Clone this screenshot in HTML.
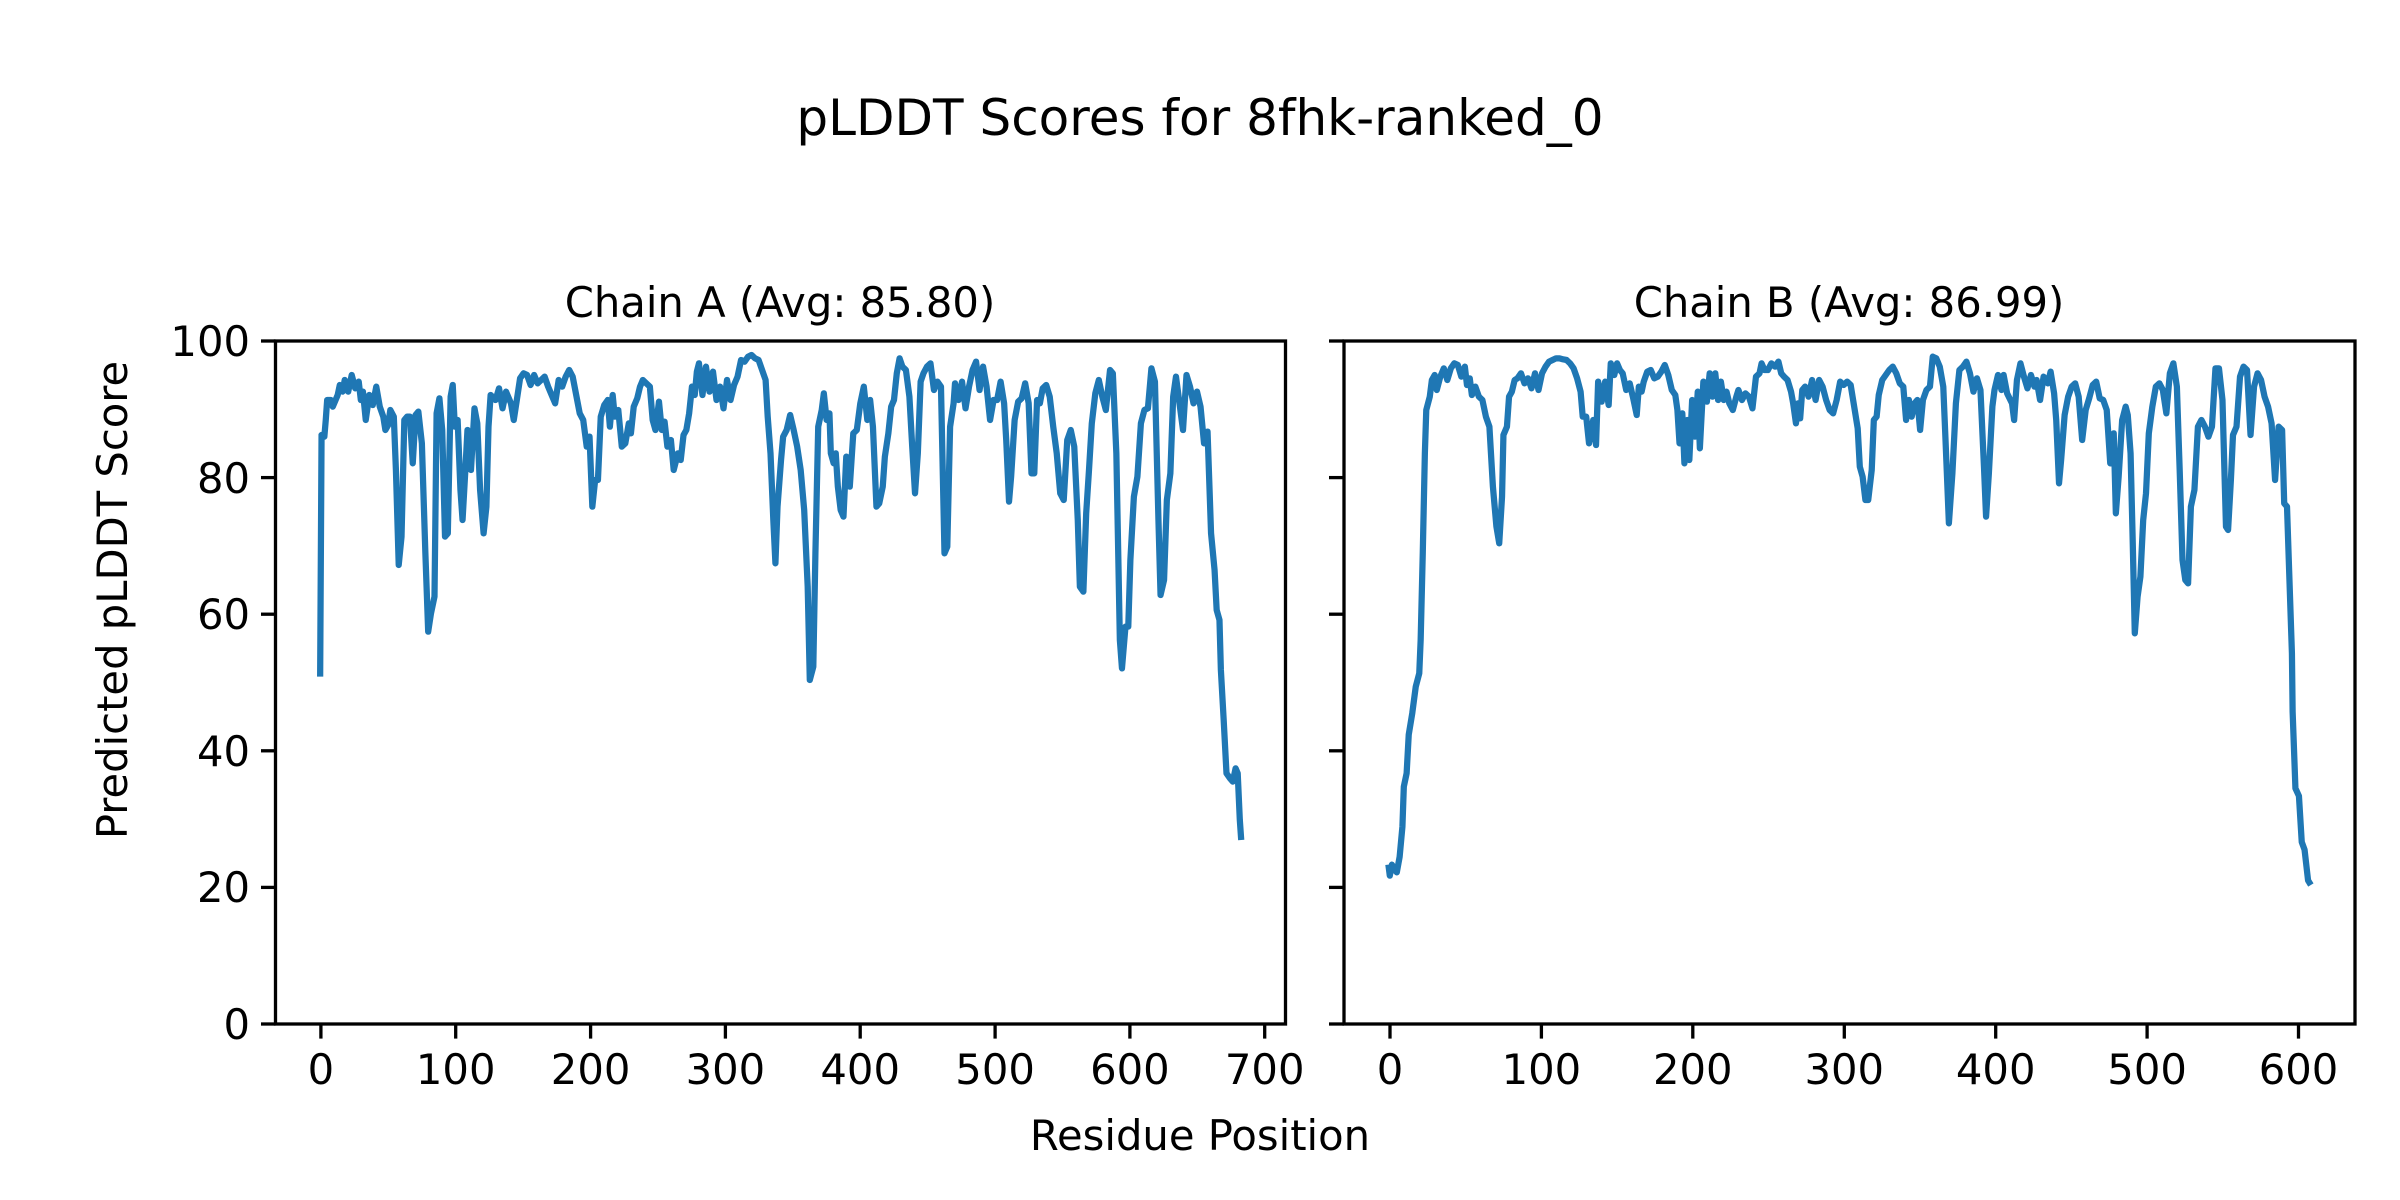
<!DOCTYPE html>
<html><head><meta charset="utf-8"><style>
html,body{margin:0;padding:0;background:#fff;}
svg{display:block;}
text{font-family:"DejaVu Sans","Liberation Sans",sans-serif;fill:#000;}
</style></head><body>
<svg width="2400" height="1200" viewBox="0 0 2400 1200" xmlns="http://www.w3.org/2000/svg">
<rect width="2400" height="1200" fill="#fff"/>
<text x="1200" y="135" font-size="50" text-anchor="middle">pLDDT Scores for 8fhk-ranked_0</text>
<text x="780" y="317" font-size="41.7" text-anchor="middle">Chain A (Avg: 85.80)</text>
<text x="1849" y="317" font-size="41.7" text-anchor="middle">Chain B (Avg: 86.99)</text>
<text x="1200" y="1150" font-size="41.7" text-anchor="middle">Residue Position</text>
<text transform="translate(127,600) rotate(-90)" font-size="41.7" text-anchor="middle">Predicted pLDDT Score</text>

<g stroke="#000" stroke-width="3.3">
<line x1="261" y1="1024" x2="275.5" y2="1024"/><line x1="261" y1="887.4" x2="275.5" y2="887.4"/>
<line x1="261" y1="750.8" x2="275.5" y2="750.8"/><line x1="261" y1="614.2" x2="275.5" y2="614.2"/>
<line x1="261" y1="477.6" x2="275.5" y2="477.6"/><line x1="261" y1="341" x2="275.5" y2="341"/>
<line x1="1329" y1="1024" x2="1344" y2="1024"/><line x1="1329" y1="887.4" x2="1344" y2="887.4"/>
<line x1="1329" y1="750.8" x2="1344" y2="750.8"/><line x1="1329" y1="614.2" x2="1344" y2="614.2"/>
<line x1="1329" y1="477.6" x2="1344" y2="477.6"/><line x1="1329" y1="341" x2="1344" y2="341"/>
<line x1="320.9" y1="1024" x2="320.9" y2="1038.6"/><line x1="455.7" y1="1024" x2="455.7" y2="1038.6"/>
<line x1="590.6" y1="1024" x2="590.6" y2="1038.6"/><line x1="725.4" y1="1024" x2="725.4" y2="1038.6"/>
<line x1="860.2" y1="1024" x2="860.2" y2="1038.6"/><line x1="995.1" y1="1024" x2="995.1" y2="1038.6"/>
<line x1="1129.9" y1="1024" x2="1129.9" y2="1038.6"/><line x1="1264.7" y1="1024" x2="1264.7" y2="1038.6"/>
<line x1="1390" y1="1024" x2="1390" y2="1038.6"/><line x1="1541.4" y1="1024" x2="1541.4" y2="1038.6"/>
<line x1="1692.8" y1="1024" x2="1692.8" y2="1038.6"/><line x1="1844.3" y1="1024" x2="1844.3" y2="1038.6"/>
<line x1="1995.7" y1="1024" x2="1995.7" y2="1038.6"/><line x1="2147.1" y1="1024" x2="2147.1" y2="1038.6"/>
<line x1="2298.5" y1="1024" x2="2298.5" y2="1038.6"/>
</g>
<g font-size="41.7" text-anchor="end">
<text x="250" y="1039">0</text><text x="250" y="902">20</text><text x="250" y="766">40</text>
<text x="250" y="629">60</text><text x="250" y="493">80</text><text x="250" y="356">100</text>
</g>
<g font-size="41.7" text-anchor="middle">
<text x="320.9" y="1084">0</text><text x="455.7" y="1084">100</text><text x="590.6" y="1084">200</text>
<text x="725.4" y="1084">300</text><text x="860.2" y="1084">400</text><text x="995.1" y="1084">500</text>
<text x="1129.9" y="1084">600</text><text x="1264.7" y="1084">700</text>
<text x="1390" y="1084">0</text><text x="1541.4" y="1084">100</text><text x="1692.8" y="1084">200</text>
<text x="1844.3" y="1084">300</text><text x="1995.7" y="1084">400</text><text x="2147.1" y="1084">500</text>
<text x="2298.5" y="1084">600</text>
</g>

<g transform="translate(250,320) scale(0.7015,0.33333)">
<polyline fill="none" stroke="#1f77b4" stroke-width="6.25" vector-effect="non-scaling-stroke" stroke-linejoin="round" points="100,1070 102,345 106,350 108,300 110,240 115,240 118,260 122,240 125,225 128,195 132,215 135,180 140,215 145,165 150,205 155,185 158,240 161,215 165,300 170,225 175,255 180,200 185,260 190,290 193,330 197,315 200,270 205,290 208,450 212,735 216,650 220,300 224,290 228,290 232,430 236,285 240,275 245,370 250,700 254,935 258,880 263,830 266,280 270,235 274,330 278,650 282,640 286,230 289,195 292,320 296,300 300,510 303,600 307,450 310,330 315,450 320,265 324,310 328,510 333,640 337,560 340,320 343,225 350,240 355,205 360,265 365,215 372,250 376,300 380,245 385,175 390,160 395,165 400,195 405,165 410,190 420,170 425,200 430,225 435,250 440,180 445,200 450,170 455,150 460,170 465,225 470,280 475,300 480,380 484,350 488,560 492,480 496,480 500,290 505,255 510,240 513,320 517,225 520,290 525,270 530,380 535,370 540,310 543,340 547,260 552,235 556,200 560,180 565,190 570,200 574,300 578,330 583,245 587,330 591,305 595,380 600,360 604,450 610,400 614,420 618,345 622,330 626,280 630,200 634,225 637,155 640,130 645,225 650,140 655,215 660,155 665,240 670,200 675,265 680,180 685,240 690,195 695,170 700,120 705,125 710,110 715,105 720,115 725,120 730,150 735,180 738,290 742,400 746,600 749,730 752,560 757,420 760,350 765,330 770,285 775,330 780,380 785,450 790,570 795,800 798,1080 803,1040 806,700 810,320 815,270 818,220 822,300 826,280 828,400 832,430 835,400 838,500 842,570 846,590 850,410 855,500 860,340 865,330 870,250 875,200 880,300 884,240 888,320 893,560 897,550 902,500 905,410 910,340 914,260 918,240 922,160 926,115 930,140 935,150 940,230 944,380 948,520 952,400 956,185 960,160 965,140 970,130 975,210 980,185 985,200 990,700 994,680 998,320 1003,250 1005,190 1010,240 1015,185 1020,265 1025,200 1030,150 1035,125 1040,210 1045,140 1050,200 1055,300 1060,240 1065,240 1070,185 1075,250 1078,360 1082,545 1085,470 1090,300 1095,245 1100,235 1105,190 1110,250 1114,460 1118,460 1122,240 1126,250 1130,205 1135,195 1140,230 1145,320 1150,400 1155,520 1160,540 1165,360 1170,330 1175,380 1180,600 1183,800 1188,815 1192,580 1196,450 1200,310 1205,220 1210,180 1215,230 1220,270 1226,150 1230,160 1235,400 1240,960 1243,1045 1248,920 1252,920 1255,720 1260,530 1265,470 1270,310 1275,270 1280,265 1285,145 1290,185 1295,600 1298,825 1303,780 1307,540 1312,460 1316,230 1320,170 1325,250 1330,330 1335,165 1340,200 1345,250 1350,215 1355,260 1360,370 1365,335 1370,640 1375,750 1378,870 1382,900 1384,1050 1388,1200 1392,1360 1397,1375 1401,1385 1405,1345 1408,1360 1411,1500 1413,1560"/>
</g>

<g transform="translate(1300,320) scale(0.7015,0.33333)">
<polyline fill="none" stroke="#1f77b4" stroke-width="6.25" vector-effect="non-scaling-stroke" stroke-linejoin="round" points="126,1634 128,1667 131,1634 134,1645 138,1657 142,1611 146,1520 148,1400 152,1360 155,1244 160,1180 165,1100 170,1060 172,960 175,700 178,400 180,270 185,230 188,180 192,165 195,210 200,170 205,145 210,180 215,145 220,130 225,135 230,170 235,140 238,195 242,175 245,225 250,200 255,230 260,240 265,290 270,320 275,500 280,620 284,670 288,530 290,345 295,320 298,230 302,215 306,180 310,175 315,160 320,190 325,175 330,205 335,160 340,210 345,160 350,140 355,125 360,120 365,115 370,115 375,118 380,120 385,130 390,145 395,175 400,215 403,290 408,290 412,370 418,300 422,375 425,185 430,245 435,185 440,255 443,130 448,165 452,130 456,150 460,160 465,210 470,190 475,235 480,285 483,200 487,215 490,185 495,155 500,150 505,175 510,170 515,155 520,135 525,165 530,210 535,225 538,270 541,370 545,280 548,430 552,300 555,420 559,240 563,350 567,215 570,385 575,185 580,245 584,160 588,230 592,160 596,240 600,185 604,240 608,215 612,250 617,270 622,230 625,210 630,240 635,220 640,230 645,265 650,170 655,160 658,130 662,150 667,150 672,130 677,140 682,125 686,160 690,170 695,180 700,215 703,250 707,310 710,250 713,295 716,210 720,200 725,230 730,180 735,240 740,180 745,200 750,240 755,270 760,280 765,240 770,185 775,195 780,185 785,195 790,260 795,325 798,440 802,470 806,540 810,540 815,450 818,300 822,290 825,225 830,180 835,165 840,150 845,140 850,160 855,190 860,200 864,300 868,240 872,290 876,250 880,240 884,330 888,240 893,210 898,200 902,110 907,115 912,140 917,200 920,350 925,610 930,460 935,250 940,150 945,140 950,125 955,160 960,215 965,175 970,210 975,440 978,590 982,460 987,260 990,210 995,165 1000,210 1003,165 1008,220 1015,250 1018,300 1022,180 1027,130 1032,170 1037,205 1042,165 1047,200 1050,180 1055,240 1060,170 1066,190 1070,155 1075,220 1078,300 1082,490 1085,420 1090,285 1095,230 1100,200 1105,190 1110,230 1115,360 1120,270 1125,235 1130,195 1135,185 1140,235 1145,240 1150,270 1155,430 1160,340 1163,580 1167,470 1172,300 1177,260 1180,285 1184,400 1187,660 1190,940 1194,830 1198,770 1202,600 1206,520 1210,340 1215,260 1220,200 1225,190 1230,210 1235,280 1240,160 1245,130 1250,200 1254,450 1258,720 1262,780 1266,790 1270,560 1275,510 1280,320 1285,300 1290,320 1295,350 1300,320 1305,145 1310,145 1315,240 1320,620 1323,630 1327,480 1330,345 1335,320 1340,170 1345,140 1350,150 1355,345 1360,200 1365,160 1370,180 1375,230 1380,260 1385,310 1390,480 1395,320 1400,330 1403,550 1407,560 1410,750 1414,1000 1415,1175 1419,1405 1424,1428 1428,1566 1432,1589 1437,1681 1441,1695"/>
</g>

<rect x="275.5" y="341" width="1010" height="683" fill="none" stroke="#000" stroke-width="3.3"/>
<rect x="1344" y="341" width="1011" height="683" fill="none" stroke="#000" stroke-width="3.3"/>
</svg>
</body></html>
